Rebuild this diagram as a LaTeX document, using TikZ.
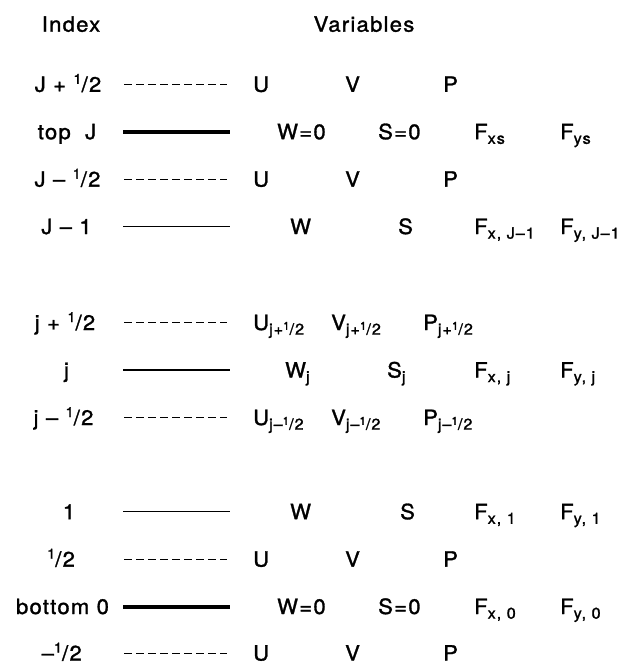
\documentclass[tikz,border=0pt]{standalone}
\usepackage{fontspec}
\setmainfont{TeX Gyre Heros}[LetterSpace=6, FakeStretch=1.05, FakeBold=1.4]
% half-index fractions: small raised 1 before a slash and 2
\newcommand\hf{\raisebox{0.72ex}{\fontsize{14}{14}\selectfont 1}/2}
\newcommand\shf{\raisebox{0.6ex}{\fontsize{11}{11}\selectfont 1}/2}
% lowered subscript in text mode
\newcommand\sbx[1]{\raisebox{-0.42ex}{\fontsize{15.5}{16}\selectfont #1}}
\begin{document}
\begin{tikzpicture}[x=1pt,y=-1pt,
  every node/.style={inner sep=0pt, font=\fontsize{21}{24}\selectfont},
  idx/.style={anchor=base},
  var/.style={anchor=base west},
  halfline/.style={line width=1pt, dash pattern=on 7.5pt off 4.5pt},
  fullline/.style={line width=1.1pt},
  edgeline/.style={line width=4pt}]
\useasboundingbox (0,0) rectangle (621,664);

% headings
\node[idx] (hidx) at (71,31.7) {Index};
\node[idx] (hvar) at (364,31.7) {Variables};

% index labels (baseline = level + 7.5)
\node[idx] (i1)  at (68,91.8)   {J + \hf};
\node[idx] (i2)  at (67,139.2)  {top\,\, J};
\node[idx] (i3)  at (67.5,186.6) {J -- \hf};
\node[idx] (i4)  at (66.5,234)  {J -- 1};
\node[idx] (i5)  at (65,330)    {j + \hf};
\node[idx] (i6)  at (66.5,377.5) {j};
\node[idx] (i7)  at (63.5,425)  {j -- \hf};
\node[idx] (i8)  at (69,519.2)  {1};
\node[idx] (i9)  at (61,566.6)  {\hf};
\node[idx] (i10) at (62.5,614)  {bottom 0};
\node[idx] (i11) at (61.7,660.5) {--\hf};

% level lines
\foreach \n/\y in {1/84.3,3/179.1,5/322.5,7/417.5,9/559.1,11/653.4}{
  \coordinate (a\n) at (124,\y); \coordinate (b\n) at (227,\y);
  \draw[halfline] (a\n) -- (b\n);}
\foreach \n/\y in {4/226.5,6/370,8/511.7}{
  \coordinate (a\n) at (123,\y); \coordinate (b\n) at (230,\y);
  \draw[fullline] (a\n) -- (b\n);}
\foreach \n/\y in {2/131.7,10/606.5}{
  \coordinate (a\n) at (123,\y); \coordinate (b\n) at (230,\y);
  \draw[edgeline] (a\n) -- (b\n);}

% J + 1/2
\node[var] (u1) at (253,91.8) {U};
\node[var] (v1) at (345,91.8) {V};
\node[var] (p1) at (443,91.8) {P};
% top J
\node[var] (w2) at (277,139.2) {W=0};
\node[var] (s2) at (378,139.2) {S=0};
\node[var] (fx2) at (474,139.2) {F\sbx{xs}};
\node[var] (fy2) at (560,139.2) {F\sbx{ys}};
% J - 1/2
\node[var] (u3) at (253,186.6) {U};
\node[var] (v3) at (345,186.6) {V};
\node[var] (p3) at (443,186.6) {P};
% J - 1
\node[var] (w4) at (290,234) {W};
\node[var] (s4) at (398,234) {S};
\node[var] (fx4) at (474,234) {F\sbx{x, J--1}};
\node[var] (fy4) at (560,234) {F\sbx{y, J--1}};
% j + 1/2
\node[var] (u5) at (253,330) {U\sbx{j+\shf}};
\node[var] (v5) at (331,330) {V\sbx{j+\shf}};
\node[var] (p5) at (423,330) {P\sbx{j+\shf}};
% j
\node[var] (w6) at (285,377.5) {W\sbx{j}};
\node[var] (s6) at (387,377.5) {S\sbx{j}};
\node[var] (fx6) at (474,377.5) {F\sbx{x, j}};
\node[var] (fy6) at (560,377.5) {F\sbx{y, j}};
% j - 1/2
\node[var] (u7) at (253,425) {U\sbx{j--\shf}};
\node[var] (v7) at (331,425) {V\sbx{j--\shf}};
\node[var] (p7) at (423,425) {P\sbx{j--\shf}};
% 1
\node[var] (w8) at (290,519.2) {W};
\node[var] (s8) at (400,519.2) {S};
\node[var] (fx8) at (474,519.2) {F\sbx{x, 1}};
\node[var] (fy8) at (560,519.2) {F\sbx{y, 1}};
% 1/2
\node[var] (u9) at (253,566.6) {U};
\node[var] (v9) at (345,566.6) {V};
\node[var] (p9) at (443,566.6) {P};
% bottom 0
\node[var] (w10) at (277,614) {W=0};
\node[var] (s10) at (378,614) {S=0};
\node[var] (fx10) at (474,614) {F\sbx{x, 0}};
\node[var] (fy10) at (560,614) {F\sbx{y, 0}};
% -1/2
\node[var] (u11) at (253,660.5) {U};
\node[var] (v11) at (345,660.5) {V};
\node[var] (p11) at (443,660.5) {P};
\end{tikzpicture}
\end{document}
